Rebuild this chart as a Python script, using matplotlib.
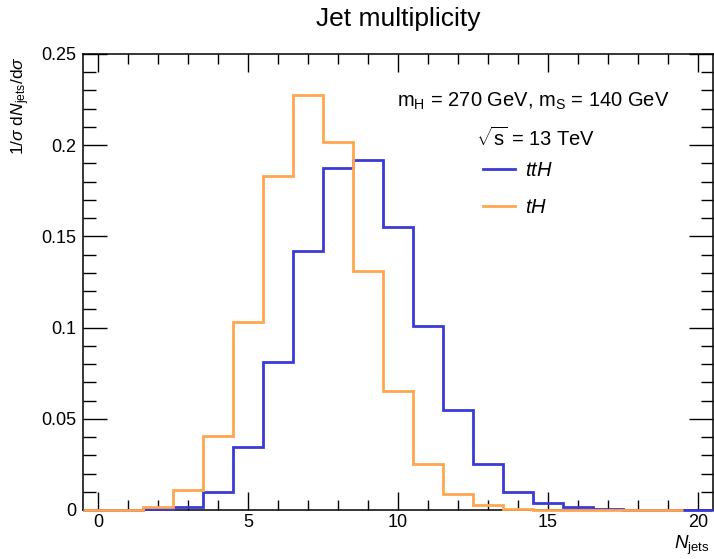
import matplotlib
matplotlib.use('Agg')
import matplotlib.pyplot as plt
from matplotlib.ticker import MultipleLocator
import numpy as np

plt.rcParams['font.family'] = ['Liberation Sans', 'DejaVu Sans']
plt.rcParams['mathtext.fontset'] = 'custom'
plt.rcParams['mathtext.rm'] = 'Liberation Sans'
plt.rcParams['mathtext.it'] = 'Liberation Sans:italic'
plt.rcParams['mathtext.sf'] = 'Liberation Sans'

# normalised jet multiplicity, one bin per integer N_jets
tth_edges = np.arange(-0.5, 21.0, 1.0)
tth_vals = [0.0, 0.0, 0.0005, 0.0015, 0.010, 0.0345, 0.081, 0.142, 0.1875, 0.192,
            0.155, 0.101, 0.055, 0.025, 0.010, 0.004, 0.0015, 0.0005, 0.0002, 0.0001, 0.0]
th_edges = np.arange(-0.5, 20.0, 1.0)
th_vals = [0.0, 0.0002, 0.0016, 0.011, 0.0405, 0.103, 0.183, 0.2275, 0.202, 0.131,
           0.065, 0.025, 0.009, 0.003, 0.0008, 0.0002, 0.0, 0.0, 0.0, 0.0]

blue = '#3a3ad8'
orange = '#ffa64f'

fig = plt.figure(figsize=(7.14, 5.59), dpi=100)
ax = fig.add_axes([83/714, 49/559, 630/714, 456/559])

ax.stairs(tth_vals, tth_edges, color=blue, lw=2, zorder=3, clip_on=False, label='$\\it{ttH}$')
ax.stairs(th_vals, th_edges, color=orange, lw=2, zorder=3, clip_on=False, label='$\\it{tH}$')

ax.set_xlim(-0.5, 20.5)
ax.set_ylim(0, 0.25)
ax.xaxis.set_major_locator(MultipleLocator(5))
ax.xaxis.set_minor_locator(MultipleLocator(1))
ax.yaxis.set_major_locator(MultipleLocator(0.05))
ax.yaxis.set_minor_locator(MultipleLocator(0.01))
ax.set_yticks([0, 0.05, 0.1, 0.15, 0.2, 0.25], ['0', '0.05', '0.1', '0.15', '0.2', '0.25'])

ax.tick_params(which='both', direction='in', top=True, right=True, labelsize=13, width=1)
ax.tick_params(axis='x', which='major', length=13, pad=3)
ax.tick_params(axis='x', which='minor', length=7)
ax.tick_params(axis='y', which='major', length=17, pad=5)
ax.tick_params(axis='y', which='minor', length=9)
for s in ax.spines.values():
    s.set_linewidth(1.1)

ax.set_title('Jet multiplicity', fontsize=19, pad=20)
ax.set_xlabel('$N_{\\mathrm{jets}}$', fontsize=13.5, loc='right', labelpad=2)
ax.xaxis.label.set_x(0.994)
fig.text(21/714, 1 - 56/559, '1/$\\sigma$ d$N_{\\mathrm{jets}}$/d$\\sigma$',
         rotation=90, ha='center', va='top', fontsize=12.5)

ax.text(0.714, 0.897, '$\\mathrm{m_H}$ = 270 GeV, $\\mathrm{m_S}$ = 140 GeV',
        transform=ax.transAxes, ha='center', va='center', fontsize=14.5)
ax.text(0.718, 0.815, '$\\sqrt{\\mathrm{s}}$ = 13 TeV',
        transform=ax.transAxes, ha='center', va='center', fontsize=14.5)

ax.legend(loc='upper left', bbox_to_anchor=(0.635, 0.766), frameon=False, fontsize=14.5,
          handlelength=1.6, handletextpad=0.5, labelspacing=0.92, borderpad=0,
          borderaxespad=0)

fig.savefig('out.png', dpi=100)
